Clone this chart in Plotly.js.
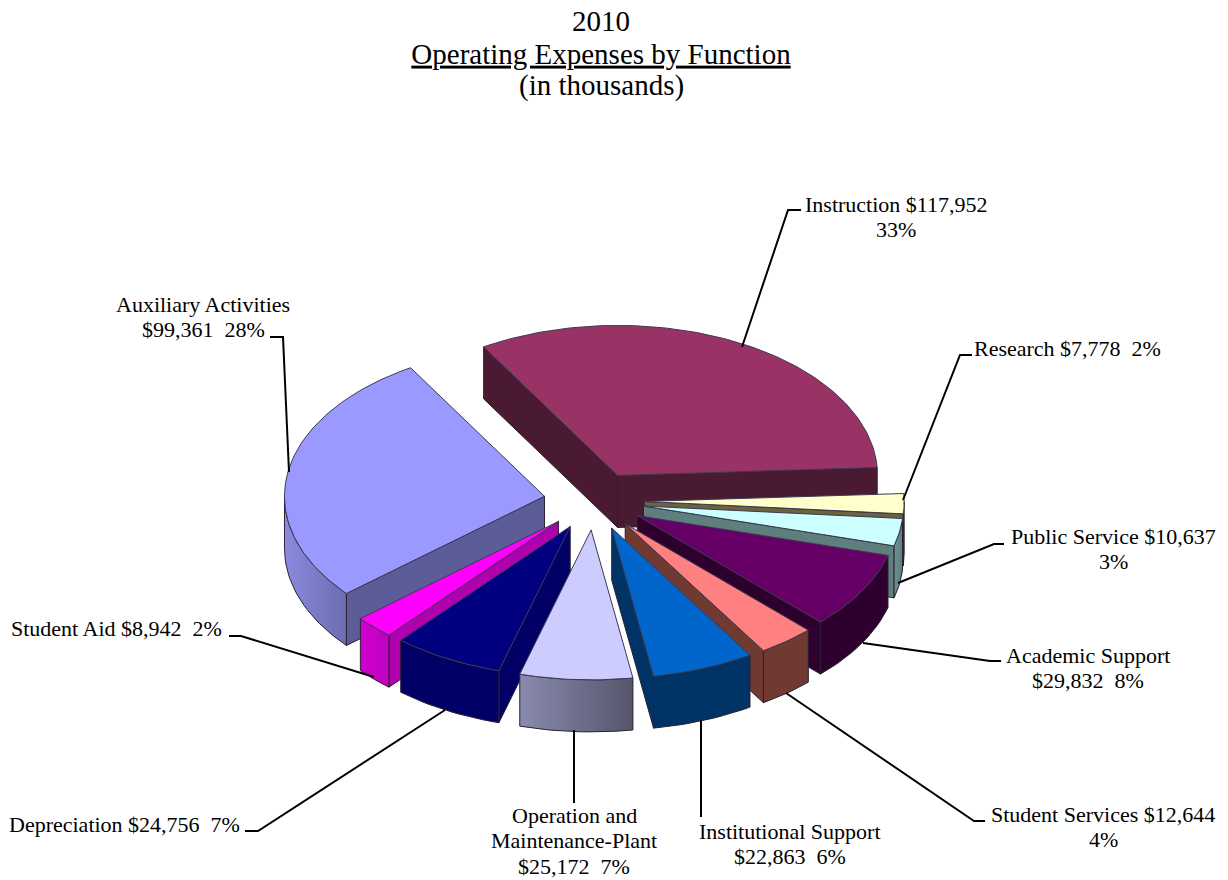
<!DOCTYPE html>
<html><head><meta charset="utf-8">
<script src="https://cdn.plot.ly/plotly-3.0.0.min.js"></script>
<style>html,body{margin:0;padding:0;background:#fff}#c{width:1228px;height:880px}</style>
</head><body><div id="c"></div>
<script>
// ---- data, in clockwise order starting at Instruction ----
const categories = ["Instruction","Research","Public Service","Academic Support","Student Services","Institutional Support","Operation and Maintenance-Plant","Depreciation","Student Aid","Auxiliary Activities"];
const values = [117952,7778,10637,29832,12644,22863,25172,24756,8942,99361];
const percents = [33,2,3,8,4,6,7,7,2,28];
const topColors = ["#993366","#FFFFCC","#CCFFFF","#660066","#FF8080","#0066CC","#CCCCFF","#000080","#FF00FF","#9999FF"];
const wallColors = ["#4A1A33","#6B6240","#5F7F7F","#2E002E","#703A33","#003366","#666680","#000066","#B000B0","#5C5C99"];
const outerWalls = [["#4A1A33","#4A1A33"],["#6B6240","#6B6240"],["#6F9090","#5F7F7F"],["#2E002E","#2E002E"],["#703A33","#703A33"],["#003366","#003366"],["#8A8AAF","#55556B"],["#000066","#000066"],["#D000D0","#C000C0"],["#8A8AE0","#6C6CB0"]];
const labelText = [
 "Instruction $117,952<br>33%","Research $7,778  2%","Public Service $10,637<br>3%","Academic Support<br>$29,832  8%",
 "Student Services $12,644<br>4%","Institutional Support<br>$22,863  6%","Operation and<br>Maintenance-Plant<br>$25,172  7%",
 "Depreciation $24,756  7%","Student Aid $8,942  2%","Auxiliary Activities<br>$99,361  28%"];

// ---- pie geometry (screen-plane ellipse) ----
const cx=594, cy=501, rx=260, ry=150, explode=0.193, depth=52, startDeg=121;
const total = values.reduce((a,b)=>a+b,0);
const rad = d=>d*Math.PI/180;
function wedges(){
  let a=startDeg; 
  return values.map((v,i)=>{const s=v/total*360; const w={i,a0:a,a1:a-s,mid:a-s/2}; a-=s; return w;});
}
const traces=[];
function poly(xs,ys,fill,line,grad){
  const t={type:'scatter',mode:'lines',x:xs,y:ys,fill:'toself',line:{color:line,width:1},hoverinfo:'skip',showlegend:false};
  if(grad) t.fillgradient={type:'horizontal',colorscale:[[0,grad[0]],[1,grad[1]]]}; else t.fillcolor=fill;
  traces.push(t);
}
function ptOf(w,d){return [w.ax+rx*Math.cos(rad(d)), w.ay-ry*Math.sin(rad(d))];}
const ws=wedges().map(w=>{
  w.ax=cx+explode*rx*Math.cos(rad(w.mid)); w.ay=cy-explode*ry*Math.sin(rad(w.mid)); return w;});
// painter's order: back to front
const order=[0,9,1,2,3,8,4,7,5,6];
order.forEach(idx=>{
  const w=ws[idx], i=w.i, wall=wallColors[i], edge='#2a2030';
  const mid=ptOf(w,w.mid);
  [w.a0,w.a1].forEach(d=>{
    const p=ptOf(w,d), ex=p[0]-w.ax, ey=p[1]-w.ay;
    let nx=-ey, ny=ex;
    if(nx*(mid[0]-w.ax)+ny*(mid[1]-w.ay)>0){nx=-nx;ny=-ny;}
    if(ny>0) poly([w.ax,p[0],p[0],w.ax,w.ax],[w.ay,p[1],p[1]+depth,w.ay+depth,w.ay],wall,edge);
  });
  // outer wall: the part of the rim on the near half
  const lo=Math.max(w.a1,-180), hi=Math.min(w.a0,0);
  if(hi>lo){
    const xs=[],ys=[];
    for(let d=hi;d>lo;d-=1.5){const p=ptOf(w,d);xs.push(p[0]);ys.push(p[1]);}
    let p=ptOf(w,lo);xs.push(p[0]);ys.push(p[1]);
    for(let d=lo;d<hi;d+=1.5){p=ptOf(w,d);xs.push(p[0]);ys.push(p[1]+depth);}
    p=ptOf(w,hi);xs.push(p[0],xs[0]);ys.push(p[1]+depth,ys[0]);
    poly(xs,ys,wall,edge,outerWalls[i]);
  }
  // top face
  const xs=[w.ax],ys=[w.ay];
  for(let d=w.a0;d>w.a1;d-=1){const p=ptOf(w,d);xs.push(p[0]);ys.push(p[1]);}
  const e=ptOf(w,w.a1);xs.push(e[0],w.ax);ys.push(e[1],w.ay);
  poly(xs,ys,topColors[i],'#3a3a50');
});

// ---- leader lines and label anchors ----
const leaders=[
 [[742,347],[788,210],[801,210]],
 [[903,500],[960,355],[972,355]],
 [[898,583],[994,544],[1004,544]],
 [[863,643],[990,661],[1001,661]],
 [[786,693],[974,821],[985,821]],
 [[701,720],[701,817]],
 [[574,730],[574,803]],
 [[445,710],[258,831],[245,831]],
 [[374,677],[241,636],[229,636]],
 [[289,472],[283,337],[270,337]]
];
leaders.forEach(l=>traces.push({type:'scatter',mode:'lines',x:l.map(p=>p[0]),y:l.map(p=>p[1]),line:{color:'#000',width:2},hoverinfo:'skip',showlegend:false}));

// centre x and first-line baseline of each label
const labelX=[896,1067,1113,1088,1103,790,574,124,116,203];
const labelBase=[211,355,543,662,821,838,822,831,635,311];
const lineGap=25.5, baseToMid=7;
const font={family:'"Liberation Serif","Times New Roman",serif',size:22,color:'#000'};
const annotations=[];
labelText.forEach((t,i)=>t.split('<br>').forEach((line,k)=>annotations.push({
  x:labelX[i],y:labelBase[i]-baseToMid+k*lineGap,xref:'x',yref:'y',text:line.replace(/  /g,'\u00a0\u00a0'),
  showarrow:false,font,align:'center',xanchor:'center',yanchor:'middle'})));
const titleFont={family:font.family,size:29,color:'#000'};
annotations.push({x:601,y:20.5,xref:'x',yref:'y',text:'2010',showarrow:false,font:titleFont,xanchor:'center',yanchor:'middle'});
annotations.push({x:601,y:85.5,xref:'x',yref:'y',text:'(in thousands)',showarrow:false,font:titleFont,xanchor:'center',yanchor:'middle'});

Plotly.newPlot('c',traces,{
  width:1228,height:880,margin:{l:0,r:0,t:0,b:0},paper_bgcolor:'#fff',plot_bgcolor:'#fff',showlegend:false,
  title:{text:'<u>Operating Expenses by Function</u>',x:601/1228,xanchor:'center',xref:'paper',yref:'container',y:1-53.5/880,yanchor:'middle',font:titleFont},
  xaxis:{range:[0,1228],visible:false,fixedrange:true},
  yaxis:{range:[880,0],visible:false,fixedrange:true},
  annotations
},{staticPlot:true,displayModeBar:false});
</script></body></html>
